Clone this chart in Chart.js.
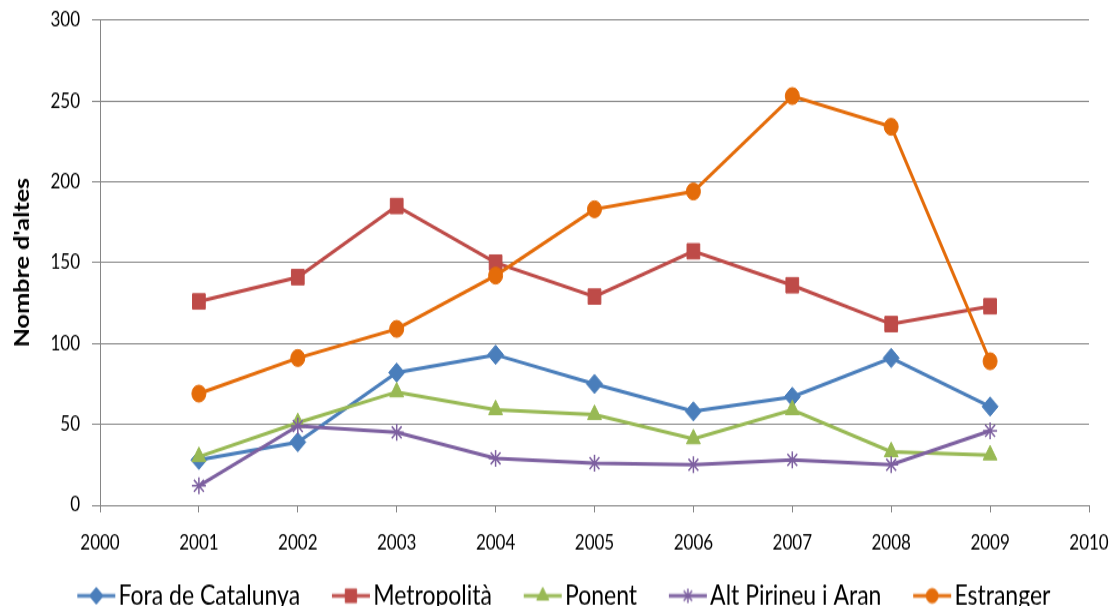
<!DOCTYPE html>
<html>
<head>
<meta charset="utf-8">
<script src="https://cdn.jsdelivr.net/npm/chart.js@4.4.1/dist/chart.umd.min.js"></script>
<style>
  html, body { margin: 0; padding: 0; background: #fff; width: 1110px; height: 606px; overflow: hidden; }
  /* the reference picture is stretched vertically, so the chart is drawn short and scaled */
  #chart { display: block; transform: scaleY(1.2); transform-origin: 0 0; }
</style>
</head>
<body>
<canvas id="chart" width="1110" height="518"></canvas>
<script>
// ---- data ----
const years = [2001, 2002, 2003, 2004, 2005, 2006, 2007, 2008, 2009];
const foraCatalunya = [28, 39, 82, 93, 75, 58, 67, 91, 61];
const metropolita   = [126, 141, 185, 150, 129, 157, 136, 112, 123];
const ponent        = [30, 51, 70, 59, 56, 41, 59, 33, 31];
const altPirineu    = [12, 49, 45, 29, 26, 25, 28, 25, 46];
const estranger     = [69, 91, 109, 142, 183, 194, 253, 234, 89];

const seriesNames = ["Fora de Catalunya", "Metropolità", "Ponent", "Alt Pirineu i Aran", "Estranger"];
const seriesData  = [foraCatalunya, metropolita, ponent, altPirineu, estranger];
const colors      = ["#4A7EBB", "#BE4B48", "#98B954", "#7D60A0", "#E46C0A"];
const markers     = ["rectRot", "rect", "triangle", "star", "circle"];
const radii       = [8, 9, 8, 7, 7];

const gridGrey = "#868686";
const fontFamily = "Lato, 'Open Sans', sans-serif";

// legend icon: short line with the marker in the middle (like Excel)
// image is 58 wide, the visible line sits on its right part so the legend spacing works out
function legendIcon(color, style, r) {
  const c = document.createElement("canvas");
  c.width = 58; c.height = 20;
  const g = c.getContext("2d");
  g.strokeStyle = color;
  g.fillStyle = color;
  g.lineWidth = 3;
  g.beginPath(); g.moveTo(19, 10); g.lineTo(57, 10); g.stroke();
  g.lineWidth = style === "star" ? 1.5 : 1;
  Chart.helpers.drawPoint(g, { pointStyle: style, radius: r, rotation: 0, borderWidth: 1 }, 38, 10);
  return c;
}

const datasets = seriesNames.map((name, i) => ({
  label: name,
  data: years.map((yr, j) => ({ x: yr, y: seriesData[i][j] })),
  borderColor: colors[i],
  backgroundColor: colors[i],
  borderWidth: 3,
  pointStyle: markers[i],
  pointRadius: radii[i],
  pointBackgroundColor: colors[i],
  pointBorderColor: colors[i],
  pointBorderWidth: markers[i] === "star" ? 1.5 : 1,
  tension: 0,
  order: seriesNames.length - i, // later series drawn on top
  legendIcon: legendIcon(colors[i], markers[i], radii[i] - 1)
}));

new Chart(document.getElementById("chart"), {
  type: "line",
  data: { datasets },
  options: {
    responsive: false,
    devicePixelRatio: 1,
    animation: false,
    layout: { padding: { left: 8, right: 0, top: 0, bottom: 0 } },
    plugins: {
      tooltip: { enabled: false },
      legend: {
        position: "bottom",
        labels: {
          usePointStyle: true,
          pointStyleWidth: 39.5,
          padding: 22,
          color: "#000",
          font: { family: fontFamily, size: 23 },
          sort: (a, b) => a.datasetIndex - b.datasetIndex,
          generateLabels: chart => chart.data.datasets.map((ds, i) => ({
            text: ds.label,
            pointStyle: ds.legendIcon,
            fontColor: "#000",
            lineWidth: 0,
            strokeStyle: "transparent",
            fillStyle: ds.borderColor,
            datasetIndex: i,
            hidden: false
          }))
        }
      }
    },
    scales: {
      x: {
        type: "linear",
        min: 2000,
        max: 2010,
        afterFit: s => { s.height = 42; s.paddingRight = 21; },
        ticks: {
          stepSize: 1,
          maxRotation: 0,
          padding: 15,
          color: "#000",
          font: { family: fontFamily, size: 17 },
          callback: v => String(v)
        },
        grid: { drawOnChartArea: false, color: gridGrey, tickLength: 6 },
        border: { color: gridGrey, width: 1 }
      },
      y: {
        min: 0,
        max: 300,
        afterFit: s => { s.width = 92; s.paddingTop = 16.7; },
        ticks: {
          stepSize: 50,
          padding: 12,
          color: "#000",
          font: { family: fontFamily, size: 17 }
        },
        grid: { color: gridGrey, tickLength: 8 },
        border: { color: gridGrey, width: 1 },
        title: {
          display: true,
          text: "Nombre d'altes",
          color: "#000",
          padding: { top: 2, bottom: 0 },
          font: { family: fontFamily, size: 21, weight: "bold" }
        }
      }
    }
  }
});
</script>
</body>
</html>
